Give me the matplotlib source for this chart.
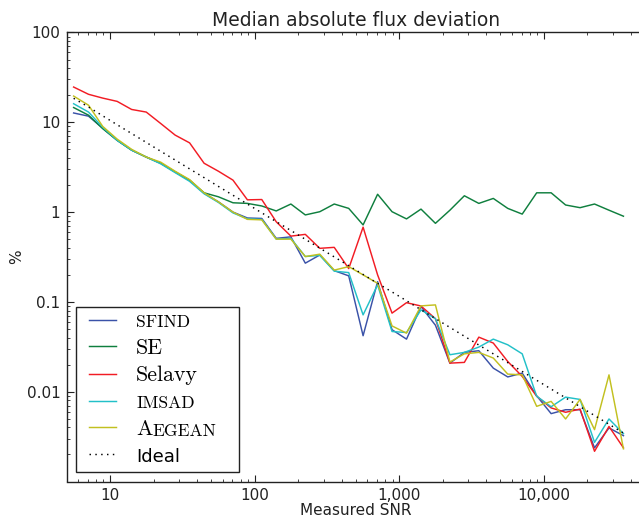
import matplotlib
matplotlib.use("Agg")
import matplotlib.pyplot as plt
from matplotlib.lines import Line2D
from matplotlib.legend_handler import HandlerLine2D
from matplotlib.ticker import FixedLocator, FixedFormatter, LogLocator, NullFormatter

# ---------------- data ----------------
snr = [5.6, 7.1, 8.9, 11.2, 14.1, 17.8, 22.4, 28.2, 35.5, 44.7,
       56.2, 70.8, 89.1, 112, 141, 178, 224, 282, 355, 447,
       562, 708, 891, 1122, 1413, 1778, 2239, 2818, 3548, 4467,
       5623, 7079, 8913, 11220, 14125, 17783, 22387, 28184, 35481]

sfind = [12.7, 11.7, 8.6, 6.3, 4.9, 4.1, 3.5, 2.8, 2.25, 1.62,
         1.3, 1.0, 0.86, 0.85, 0.51, 0.53, 0.27, 0.333, 0.223, 0.195,
         0.042, 0.168, 0.049, 0.0385, 0.0887, 0.055, 0.0208, 0.0274, 0.0286, 0.0183,
         0.0146, 0.0161, 0.0090, 0.0057, 0.0063, 0.0063, 0.00237, 0.00395, 0.00324]

se = [14.6, 12.0, 8.5, 6.3, 4.9, 4.1, 3.5, 2.8, 2.27, 1.64,
      1.48, 1.27, 1.25, 1.17, 1.03, 1.23, 0.93, 1.01, 1.23, 1.1,
      0.72, 1.58, 1.01, 0.84, 1.08, 0.75, 1.05, 1.52, 1.25, 1.42,
      1.1, 0.95, 1.64, 1.64, 1.2, 1.12, 1.23, 1.05, 0.9]

selavy = [24.7, 20.5, 18.6, 17.1, 13.9, 13.0, 9.7, 7.2, 5.9, 3.5,
          2.85, 2.27, 1.37, 1.38, 0.78, 0.54, 0.565, 0.395, 0.405, 0.235,
          0.68, 0.2, 0.075, 0.098, 0.09, 0.065, 0.0208, 0.0212, 0.0405, 0.0348,
          0.0217, 0.0148, 0.0089, 0.0066, 0.0059, 0.0064, 0.00217, 0.0041, 0.00237]

imsad = [16.1, 13.0, 8.8, 6.3, 4.9, 4.1, 3.45, 2.75, 2.2, 1.6,
         1.28, 0.98, 0.84, 0.83, 0.5, 0.51, 0.32, 0.33, 0.22, 0.212,
         0.0717, 0.155, 0.0468, 0.0456, 0.0815, 0.065, 0.0258, 0.0274, 0.0314, 0.0385,
         0.0333, 0.0264, 0.0089, 0.0068, 0.0087, 0.0082, 0.00273, 0.00497, 0.00341]

aegean = [19.6, 15.5, 9.0, 6.5, 5.0, 4.1, 3.6, 2.85, 2.3, 1.64,
          1.3, 1.0, 0.83, 0.82, 0.5, 0.5, 0.32, 0.34, 0.226, 0.247,
          0.2, 0.161, 0.054, 0.0449, 0.0903, 0.0926, 0.0214, 0.0264, 0.0274, 0.0237,
          0.0157, 0.0154, 0.00687, 0.0078, 0.00497, 0.0082, 0.00378, 0.0154, 0.00231]

ideal = [18.5, 14.8, 11.8, 9.39, 7.50, 5.97, 4.76, 3.80, 3.03, 2.42,
         1.93, 1.54, 1.23, 0.981, 0.783, 0.624, 0.498, 0.397, 0.317, 0.253,
         0.202, 0.161, 0.129, 0.103, 0.0818, 0.0652, 0.0520, 0.0415, 0.0331, 0.0264,
         0.0211, 0.0168, 0.0134, 0.0107, 0.00854, 0.00681, 0.00543, 0.00434, 0.00346]

xticks = [10, 100, 1000, 10000]
xtick_labels = ["10", "100", "1,000", "10,000"]
yticks = [0.01, 0.1, 1, 10, 100]
ytick_labels = ["0.01", "0.1", "1", "10", "100"]

title = "Median absolute flux deviation"
xlabel = "Measured SNR"
ylabel = "%"

# ---------------- figure ----------------
fig = plt.figure(figsize=(6.39, 5.18), dpi=100)
ax = fig.add_axes([66.5 / 639, (518 - 481.5) / 518, 578.5 / 639, 449 / 518])

lw = 1.05
l1, = ax.plot(snr, sfind, color="#3a52a8", lw=lw)
l2, = ax.plot(snr, se, color="#0f7f3e", lw=lw)
l3, = ax.plot(snr, selavy, color="#f21c24", lw=lw)
l4, = ax.plot(snr, imsad, color="#22c0c8", lw=lw)
l5, = ax.plot(snr, aegean, color="#c2c020", lw=lw)
l6, = ax.plot(snr, ideal, color="black", lw=lw, ls=(0, (1, 3)))

ax.set_xscale("log")
ax.set_yscale("log")
ax.set_xlim(5, 50000)
ax.set_ylim(0.001, 100)

ax.xaxis.set_major_locator(FixedLocator(xticks))
ax.xaxis.set_major_formatter(FixedFormatter(xtick_labels))
ax.yaxis.set_major_locator(FixedLocator(yticks))
ax.yaxis.set_major_formatter(FixedFormatter(ytick_labels))
ax.xaxis.set_minor_locator(LogLocator(base=10, subs=range(2, 10), numticks=20))
ax.yaxis.set_minor_locator(LogLocator(base=10, subs=range(2, 10), numticks=20))
ax.xaxis.set_minor_formatter(NullFormatter())
ax.yaxis.set_minor_formatter(NullFormatter())

ax.tick_params(which="both", direction="in", top=True, right=False,
               colors="#222222", labelcolor="#222222", labelsize=11)
ax.tick_params(which="major", length=5, width=0.8, pad=4.5)
ax.tick_params(which="minor", length=2.5, width=0.6)
for s in ax.spines.values():
    s.set_color("#222222")
    s.set_linewidth(1.0)

ax.set_title(title, fontsize=13.5, color="#222222", pad=5)
ax.set_xlabel(xlabel, fontsize=11, color="#222222", labelpad=0)
ax.set_ylabel(ylabel, fontsize=11, color="#222222", labelpad=2)

# legend
big = 15.8
small = 12.6
labels = ["SFIND", "SE", "Selavy", "IMSAD", "A", "Ideal"]
leg = ax.legend([l1, l2, l3, l4, l5, l6], labels, loc="lower left",
                bbox_to_anchor=(0.016, 0.022, 0.282, 0), mode="expand",
                borderaxespad=0,
                fancybox=False, framealpha=1, edgecolor="#222222",
                prop={"family": "cmr10", "size": big},
                handlelength=1.6, handletextpad=0.9, labelspacing=0.36,
                borderpad=0.25,
                handler_map={Line2D: HandlerLine2D(xpad=0.35)})
leg.get_frame().set_linewidth(1.0)
texts = leg.get_texts()
for i in (0, 3):
    texts[i].set_fontsize(small)
texts[5].set_family("DejaVu Sans")
texts[5].set_fontsize(13)
ax.annotate("EGEAN", xy=(1, 0), xycoords=texts[4], va="bottom", ha="left",
            fontsize=small, family="cmr10", color="black", zorder=20)

fig.savefig("out.png", dpi=100)
